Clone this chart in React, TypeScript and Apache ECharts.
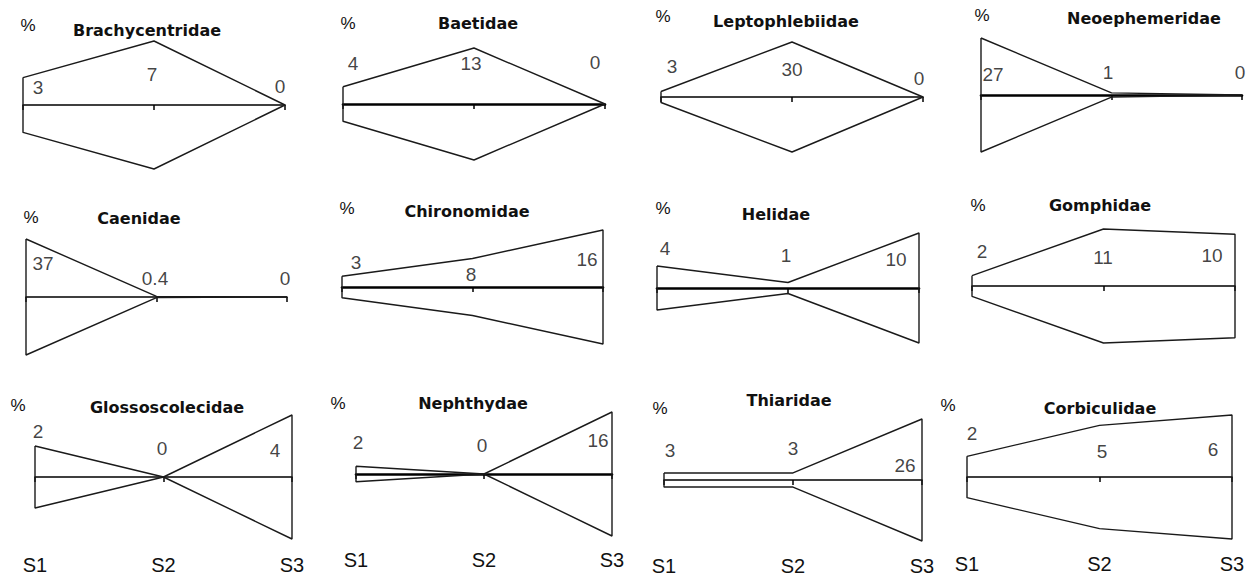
import React, { useEffect, useRef } from "react";
import * as echarts from "echarts";

// ---- data ----
const sites = ["S1", "S2", "S3"];
const families = [
  "Brachycentridae", "Baetidae", "Leptophlebiidae", "Neoephemeridae",
  "Caenidae", "Chironomidae", "Helidae", "Gomphidae",
  "Glossoscolecidae", "Nephthydae", "Thiaridae", "Corbiculidae",
];
const brachycentridae = [3, 7, 0];
const baetidae = [4, 13, 0];
const leptophlebiidae = [3, 30, 0];
const neoephemeridae = [27, 1, 0];
const caenidae = [37, 0.4, 0];
const chironomidae = [3, 8, 16];
const helidae = [4, 1, 10];
const gomphidae = [2, 11, 10];
const glossoscolecidae = [2, 0, 4];
const nephthydae = [2, 0, 16];
const thiaridae = [3, 3, 26];
const corbiculidae = [2, 5, 6];
const values = [
  brachycentridae, baetidae, leptophlebiidae, neoephemeridae,
  caenidae, chironomidae, helidae, gomphidae,
  glossoscolecidae, nephthydae, thiaridae, corbiculidae,
];

// ---- layout (pixels) ----
type Panel = {
  x0: number; x1: number; axisY: number; half: number;
  tx: number; ty: number; px: number; py: number;
  lab: number[][]; aw: number; sY?: number;
};
const layout: Panel[] = [
  { x0: 23, x1: 285, axisY: 105, half: 64, tx: 147, ty: 30, px: 28, py: 25, lab: [[38, 87], [152, 74], [280, 86]], aw: 1.5 },
  { x0: 343, x1: 605, axisY: 104, half: 56, tx: 478, ty: 23, px: 348, py: 23, lab: [[353, 63], [471, 63], [595, 62]], aw: 2.6 },
  { x0: 661, x1: 923, axisY: 97, half: 55, tx: 786, ty: 21, px: 663, py: 16, lab: [[672, 66], [792, 69], [919, 78]], aw: 1.5 },
  { x0: 981, x1: 1242, axisY: 95, half: 57, tx: 1144, ty: 18, px: 982, py: 15, lab: [[993, 74], [1108, 72], [1240, 72]], aw: 2.6 },
  { x0: 26, x1: 287, axisY: 297, half: 58, tx: 139, ty: 218, px: 31, py: 217, lab: [[43, 263], [155, 278], [285, 278]], aw: 1.5 },
  { x0: 342, x1: 603, axisY: 287, half: 57, tx: 467, ty: 211, px: 347, py: 208, lab: [[356, 262], [471, 274], [587, 259]], aw: 2.6 },
  { x0: 657, x1: 919, axisY: 288, half: 55, tx: 776, ty: 214, px: 663, py: 208, lab: [[665, 248], [786, 255], [896, 259]], aw: 2.6 },
  { x0: 972, x1: 1235, axisY: 286, half: 57, tx: 1100, ty: 205, px: 978, py: 205, lab: [[982, 251], [1103, 257], [1212, 255]], aw: 1.5 },
  { x0: 35, x1: 292, axisY: 477, half: 62, tx: 167, ty: 407, px: 18, py: 405, lab: [[38, 431], [162, 448], [275, 450]], aw: 1.5, sY: 566 },
  { x0: 356, x1: 612, axisY: 474, half: 62, tx: 473, ty: 403, px: 338, py: 403, lab: [[358, 442], [482, 445], [598, 440]], aw: 2.6, sY: 561 },
  { x0: 664, x1: 922, axisY: 480, half: 61, tx: 789, ty: 400, px: 660, py: 408, lab: [[670, 450], [793, 448], [905, 465]], aw: 1.5, sY: 567 },
  { x0: 967, x1: 1232, axisY: 477, half: 62, tx: 1100, ty: 408, px: 948, py: 405, lab: [[972, 433], [1102, 451], [1213, 449]], aw: 1.5, sY: 565 },
];

const INK = "#111111";
const NUM_FONT = "'Liberation Sans', Arial, sans-serif";
const TITLE_FONT = "'DejaVu Sans', sans-serif";

function buildOption() {
  const grid: any[] = [];
  const xAxis: any[] = [];
  const yAxis: any[] = [];
  const series: any[] = [];
  const graphic: any[] = [];

  layout.forEach((p, i) => {
    const vals = values[i];
    const maxV = Math.max(...vals);
    grid.push({ left: p.x0, top: p.axisY - p.half, width: p.x1 - p.x0, height: 2 * p.half });
    const xi = xAxis.length;
    xAxis.push({
      type: "value", gridIndex: i, min: 0, max: 2, interval: 1,
      axisLine: { show: true, onZero: true, lineStyle: { color: "#000", width: p.aw } },
      axisTick: { show: true, length: 5, lineStyle: { color: "#000", width: 1.5 } },
      axisLabel: { show: false },
      splitLine: { show: false },
    });
    if (p.sY !== undefined) {
      const gridBottom = p.axisY + p.half;
      xAxis.push({
        type: "value", gridIndex: i, min: 0, max: 2, interval: 1, position: "bottom",
        axisLine: { show: false, onZero: false },
        axisTick: { show: false },
        splitLine: { show: false },
        axisLabel: {
          show: true, margin: p.sY - 11 - gridBottom,
          formatter: (v: number) => sites[Math.round(v)] ?? "",
          color: INK, fontSize: 20, fontFamily: NUM_FONT,
        },
      });
    }
    yAxis.push({ type: "value", gridIndex: i, min: -maxV, max: maxV, show: false });

    const poly: number[][] = [];
    vals.forEach((v, k) => poly.push([k, v]));
    for (let k = vals.length - 1; k >= 0; k--) poly.push([k, -vals[k]]);
    poly.push([0, vals[0]]);
    series.push({
      type: "line", xAxisIndex: xi, yAxisIndex: i, data: poly,
      showSymbol: false, symbol: "none", clip: false, silent: true,
      lineStyle: { color: "#1a1a1a", width: 1.4 }, z: 3,
    });

    const siteX = (k: number) => p.x0 + (k * (p.x1 - p.x0)) / 2;
    series.push({
      type: "scatter", xAxisIndex: xi, yAxisIndex: i, clip: false, silent: true,
      symbolSize: 1, itemStyle: { color: "rgba(0,0,0,0)" }, z: 4,
      data: vals.map((v, k) => ({
        value: [k, 0],
        label: { offset: [p.lab[k][0] - siteX(k), p.lab[k][1] - p.axisY] },
      })),
      label: {
        show: true, position: "inside", align: "center", verticalAlign: "middle",
        formatter: (prm: any) => String(vals[prm.dataIndex]),
        color: INK, fontSize: 19, fontFamily: NUM_FONT, textBorderWidth: 0,
      },
    });

    graphic.push({
      type: "text", x: p.tx, y: p.ty, silent: true,
      style: {
        text: families[i], fill: INK, fontSize: 16, fontWeight: "bold", fontFamily: TITLE_FONT,
        textAlign: "center", textVerticalAlign: "middle", align: "center", verticalAlign: "middle",
      },
    });
    graphic.push({
      type: "text", x: p.px, y: p.py, silent: true,
      style: {
        text: "%", fill: INK, fontSize: 17, fontFamily: NUM_FONT,
        textAlign: "center", textVerticalAlign: "middle", align: "center", verticalAlign: "middle",
      },
    });
  });

  return { animation: false, backgroundColor: "#ffffff", grid, xAxis, yAxis, series, graphic };
}

export default function App() {
  const ref = useRef<HTMLDivElement>(null);
  useEffect(() => {
    if (!ref.current) return;
    const chart = echarts.init(ref.current, undefined, { renderer: "svg" });
    chart.setOption(buildOption() as any);
    return () => chart.dispose();
  }, []);
  return (
    <div
      ref={ref}
      style={{ position: "fixed", left: 0, top: 0, width: 1253, height: 579, background: "#fff" }}
    />
  );
}
